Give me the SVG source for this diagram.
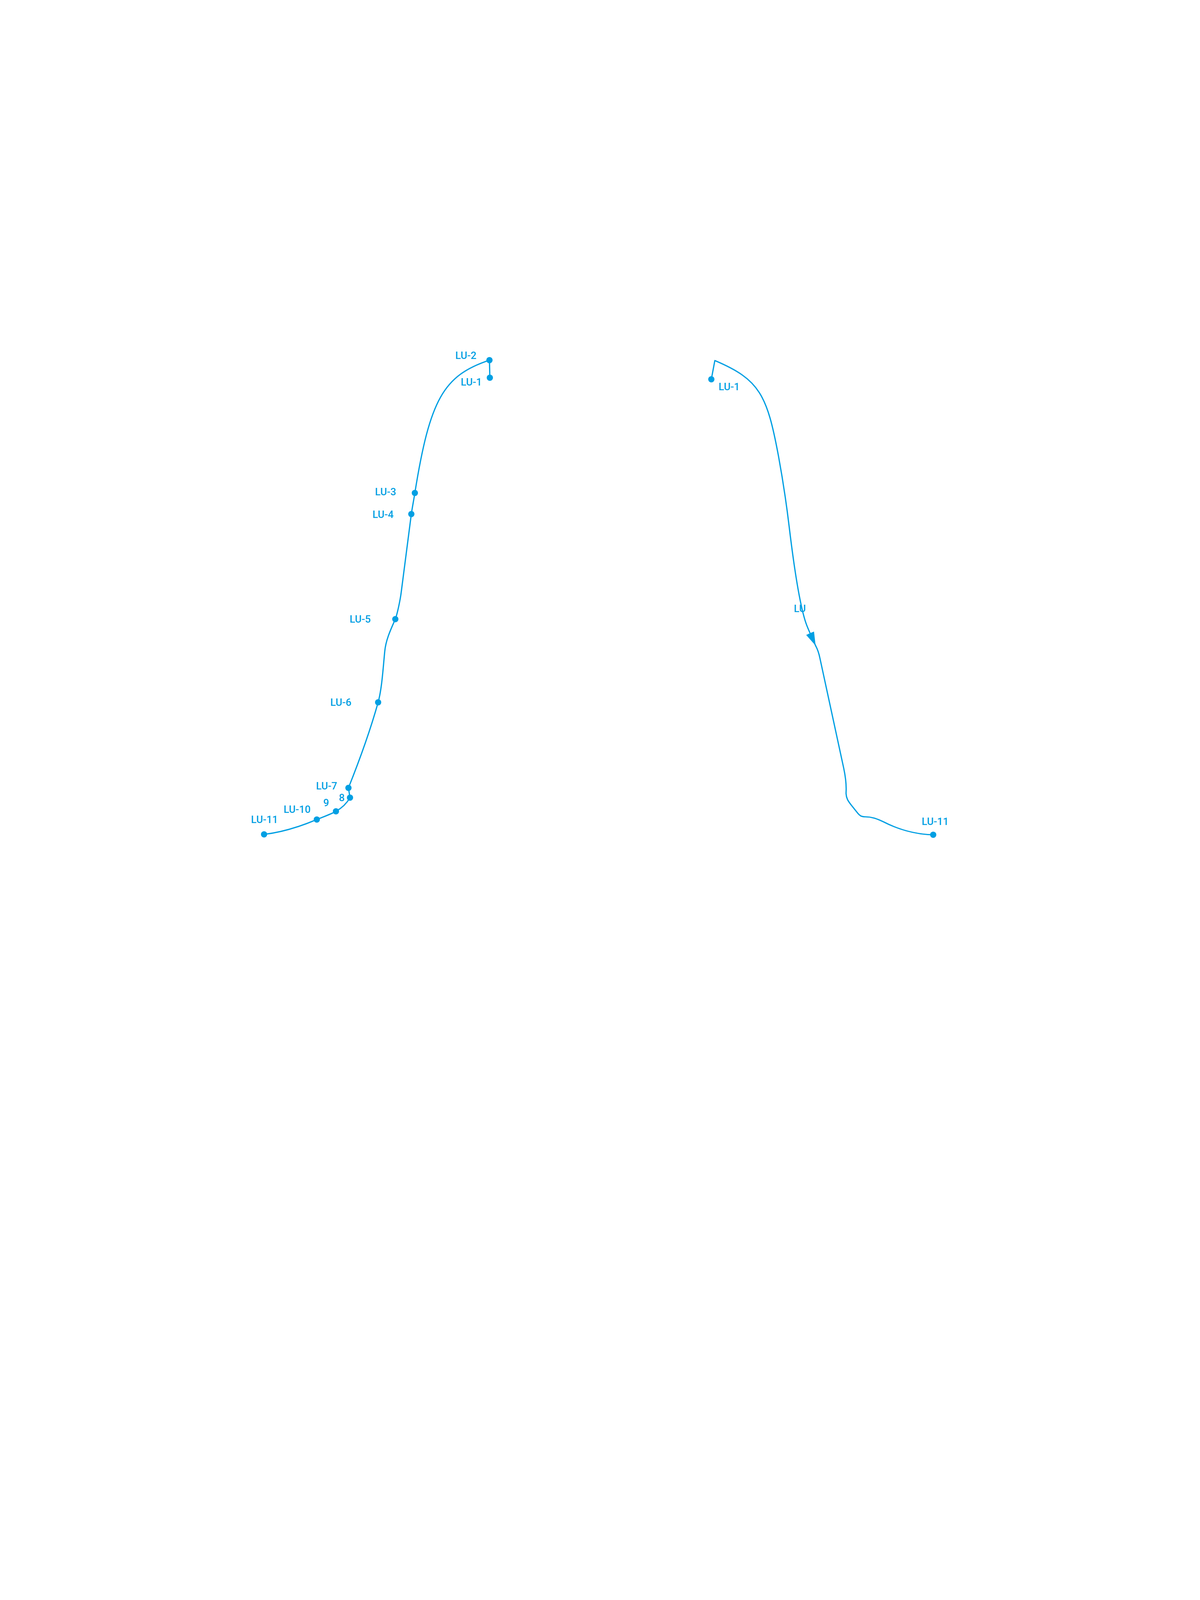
<svg xmlns="http://www.w3.org/2000/svg" width="3072" height="4098" viewBox="0 0 3072 4098">
  <style>
    .ln { fill: none; stroke: #009fe3; stroke-width: 3.2; stroke-linejoin: round; stroke-linecap: round; }
    .pt { fill: #009fe3; }
    .lb { font-family: Roboto, "Liberation Sans", sans-serif; font-size: 26px; font-weight: 500; fill: #009fe3; text-anchor: middle; }
  </style>
  <defs>
    <marker id="arr" markerUnits="userSpaceOnUse" markerWidth="36" markerHeight="22" refX="35" refY="11" orient="auto">
      <path d="M0,0 L35,11 L0,22 z" fill="#009fe3"/>
    </marker>
  </defs>
  <rect width="3072" height="4098" fill="#ffffff"/>

  <g id="connectors">
    <!-- left channel -->
    <path class="ln" d="M1254,967 L1253,922
      C1135,961.4 1100.5,1022.6 1062,1262
      C1059.5,1278.5 1055.5,1298.5 1053,1316
      L1027,1517
      C1024.4,1537 1016.8,1573 1012,1585
      C1001,1610 988,1637 985,1667
      C981,1707 977.8,1763 968,1798
      C948.4,1868 920,1947 892,2017
      L896,2042
      C888,2056 875,2068.6 860,2077
      C846,2085 825,2092 811,2098
      C766,2117 720,2131 676,2136"/>
    <!-- right channel -->
    <path class="ln" marker-end="url(#arr)" d="M1821,971 L1830,923
      C1945,971.75 1963.7,1010.7 1993,1168
      C2004,1228 2014,1296 2020,1346
      C2029.6,1426 2046,1550 2065,1600
      C2070.7,1615 2080,1635 2088,1653"/>
    <path class="ln" d="M2088,1653
      C2094,1664 2097,1675 2099,1685
      L2160,1967
      C2164,1986 2167,2008 2166,2027
      C2165,2043 2172,2052 2180,2062
      L2196,2082
      C2201,2088 2205,2091 2215,2091
      C2232,2091 2245,2096 2262,2104
      C2295,2121 2340,2136 2389,2137"/>
  </g>

  <g id="L-LU-1"><circle class="pt" cx="1254" cy="967" r="8"/><text class="lb" x="1206.5" y="987">LU-1</text></g>
  <g id="L-LU-2"><circle class="pt" cx="1253" cy="922" r="8"/><text class="lb" x="1192.5" y="919">LU-2</text></g>
  <g id="L-LU-3"><circle class="pt" cx="1062" cy="1262" r="8"/><text class="lb" x="987" y="1268">LU-3</text></g>
  <g id="L-LU-4"><circle class="pt" cx="1053" cy="1316" r="8"/><text class="lb" x="980.5" y="1326">LU-4</text></g>
  <g id="L-LU-5"><circle class="pt" cx="1012" cy="1585" r="8"/><text class="lb" x="922" y="1594">LU-5</text></g>
  <g id="L-LU-6"><circle class="pt" cx="968" cy="1798" r="8"/><text class="lb" x="872.5" y="1807">LU-6</text></g>
  <g id="L-LU-7"><circle class="pt" cx="892" cy="2017" r="8"/><text class="lb" x="836" y="2021">LU-7</text></g>
  <g id="L-LU-8"><circle class="pt" cx="896" cy="2042" r="8"/><text class="lb" x="875" y="2051">8</text></g>
  <g id="L-LU-9"><circle class="pt" cx="860" cy="2077" r="8"/><text class="lb" x="835" y="2064">9</text></g>
  <g id="L-LU-10"><circle class="pt" cx="811" cy="2098" r="8"/><text class="lb" x="760.5" y="2081">LU-10</text></g>
  <g id="L-LU-11"><circle class="pt" cx="676" cy="2136" r="8"/><text class="lb" x="677" y="2107">LU-11</text></g>

  <g id="R-LU-1"><circle class="pt" cx="1821" cy="971" r="8"/><text class="lb" x="1866.5" y="999">LU-1</text></g>
  <g id="R-LU"><text class="lb" x="2047.5" y="1567">LU</text></g>
  <g id="R-LU-11"><circle class="pt" cx="2389" cy="2137" r="8"/><text class="lb" x="2394" y="2112">LU-11</text></g>
</svg>
